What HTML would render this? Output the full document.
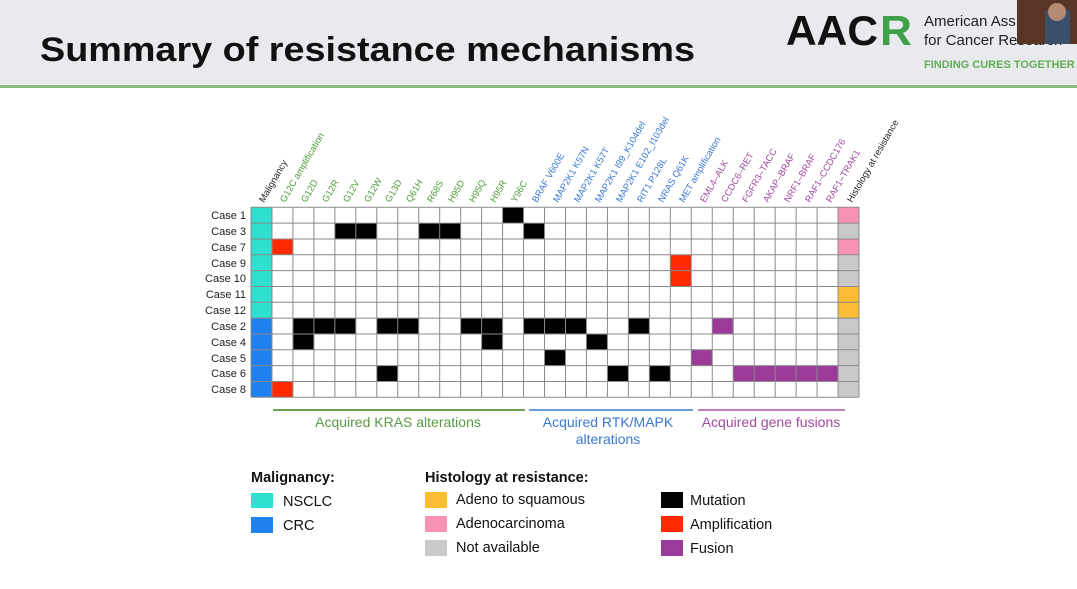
<!DOCTYPE html>
<html><head><meta charset="utf-8"><style>
html,body{margin:0;padding:0;background:#fff;}
body{width:1077px;height:589px;overflow:hidden;position:relative;font-family:"Liberation Sans",sans-serif;}
</style></head><body>
<svg width="1077" height="589" viewBox="0 0 1077 589" xmlns="http://www.w3.org/2000/svg" style="position:absolute;left:0;top:0" font-family="Liberation Sans, sans-serif">
<rect x="0" y="0" width="1077" height="85" fill="#e9eaee"/>
<rect x="0" y="85" width="1077" height="3" fill="#8dbb7e"/>
<text x="40" y="61" font-size="34" font-weight="bold" fill="#111" textLength="655" lengthAdjust="spacingAndGlyphs">Summary of resistance mechanisms</text>
<text x="786" y="45" font-size="42" font-weight="bold" fill="#111" textLength="92" lengthAdjust="spacingAndGlyphs">AAC</text>
<text x="880" y="45" font-size="42" font-weight="bold" fill="#3fa04a" textLength="32" lengthAdjust="spacingAndGlyphs">R</text>
<text x="924" y="26" font-size="15" fill="#222">American Ass</text>
<text x="924" y="45" font-size="15" fill="#222">for Cancer Research</text>
<text x="924" y="68" font-size="11" font-weight="bold" fill="#5fae52">FINDING CURES TOGETHER</text>
<rect x="1017" y="0" width="60" height="44" fill="#5a3526"/>
<rect x="1045" y="10" width="25" height="34" fill="#3a4f6a"/>
<circle cx="1057" cy="12" r="9" fill="#b58a74"/>

<g font-size="11" fill="#222" text-anchor="end">
<text x="246" y="219">Case 1</text><text x="246" y="235">Case 3</text><text x="246" y="251">Case 7</text>
<text x="246" y="267">Case 9</text><text x="246" y="282">Case 10</text><text x="246" y="298">Case 11</text>
<text x="246" y="314">Case 12</text><text x="246" y="330">Case 2</text><text x="246" y="346">Case 4</text>
<text x="246" y="362">Case 5</text><text x="246" y="377">Case 6</text><text x="246" y="393">Case 8</text>
</g>

<g font-size="9.3">
<g fill="#222"><text transform="translate(264,203) rotate(-60)">Malignancy</text></g>
<g fill="#4f9a3c">
<text transform="translate(285,203) rotate(-60)">G12C amplification</text>
<text transform="translate(306,203) rotate(-60)">G12D</text>
<text transform="translate(327,203) rotate(-60)">G12R</text>
<text transform="translate(348,203) rotate(-60)">G12V</text>
<text transform="translate(369,203) rotate(-60)">G12W</text>
<text transform="translate(390,203) rotate(-60)">G13D</text>
<text transform="translate(411,203) rotate(-60)">Q61H</text>
<text transform="translate(432,203) rotate(-60)">R68S</text>
<text transform="translate(453,203) rotate(-60)">H95D</text>
<text transform="translate(474,203) rotate(-60)">H95Q</text>
<text transform="translate(495,203) rotate(-60)">H95R</text>
<text transform="translate(516,203) rotate(-60)">Y96C</text>
</g>
<g fill="#3a78d2">
<text transform="translate(537,203) rotate(-60)">BRAF V600E</text>
<text transform="translate(558,203) rotate(-60)">MAP2K1 K57N</text>
<text transform="translate(579,203) rotate(-60)">MAP2K1 K57T</text>
<text transform="translate(600,203) rotate(-60)">MAP2K1 I99_K104del</text>
<text transform="translate(621,203) rotate(-60)">MAP2K1 E102_I103del</text>
<text transform="translate(642,203) rotate(-60)">RIT1 P128L</text>
<text transform="translate(663,203) rotate(-60)">NRAS Q61K</text>
<text transform="translate(684,203) rotate(-60)">MET amplification</text>
</g>
<g fill="#a04a9f">
<text transform="translate(705,203) rotate(-60)">EML4–ALK</text>
<text transform="translate(726,203) rotate(-60)">CCDC6–RET</text>
<text transform="translate(747,203) rotate(-60)">FGFR3–TACC</text>
<text transform="translate(768,203) rotate(-60)">AKAP–BRAF</text>
<text transform="translate(789,203) rotate(-60)">NRF1–BRAF</text>
<text transform="translate(810,203) rotate(-60)">RAF1–CCDC176</text>
<text transform="translate(831,203) rotate(-60)">RAF1–TRAK1</text>
</g>
<g fill="#222"><text transform="translate(852,203) rotate(-60)">Histology at resistance</text></g>
</g>

<g transform="translate(251,207.3) scale(20.966,15.833)">
<rect x="0" y="0" width="29" height="12" fill="#fff"/>
<rect x="0" y="0" width="1" height="7" fill="#2ee0cf"/>
<rect x="0" y="7" width="1" height="5" fill="#1f80f0"/>
<rect x="28" y="0" width="1" height="12" fill="#c9c9c9"/>
<rect x="28" y="0" width="1" height="1" fill="#f792b2"/>
<rect x="28" y="2" width="1" height="1" fill="#f792b2"/>
<rect x="28" y="5" width="1" height="2" fill="#fbbd33"/>
<g fill="#000">
<rect x="12" y="0" width="1" height="1"/>
<rect x="4" y="1" width="2" height="1"/><rect x="8" y="1" width="2" height="1"/><rect x="13" y="1" width="1" height="1"/>
<rect x="2" y="7" width="3" height="1"/><rect x="6" y="7" width="2" height="1"/><rect x="10" y="7" width="2" height="1"/><rect x="13" y="7" width="3" height="1"/><rect x="18" y="7" width="1" height="1"/>
<rect x="2" y="8" width="1" height="1"/><rect x="11" y="8" width="1" height="1"/><rect x="16" y="8" width="1" height="1"/>
<rect x="14" y="9" width="1" height="1"/>
<rect x="6" y="10" width="1" height="1"/><rect x="17" y="10" width="1" height="1"/><rect x="19" y="10" width="1" height="1"/>
</g>
<g fill="#ff2a00">
<rect x="1" y="2" width="1" height="1"/><rect x="20" y="3" width="1" height="2"/><rect x="1" y="11" width="1" height="1"/>
</g>
<g fill="#9c3a9a">
<rect x="22" y="7" width="1" height="1"/><rect x="21" y="9" width="1" height="1"/><rect x="23" y="10" width="5" height="1"/>
</g>
<g stroke="#8a8a8a" stroke-width="1">
<path vector-effect="non-scaling-stroke" d="M0 0V12M1 0V12M2 0V12M3 0V12M4 0V12M5 0V12M6 0V12M7 0V12M8 0V12M9 0V12M10 0V12M11 0V12M12 0V12M13 0V12M14 0V12M15 0V12M16 0V12M17 0V12M18 0V12M19 0V12M20 0V12M21 0V12M22 0V12M23 0V12M24 0V12M25 0V12M26 0V12M27 0V12M28 0V12M29 0V12M0 0H29M0 1H29M0 2H29M0 3H29M0 4H29M0 5H29M0 6H29M0 7H29M0 8H29M0 9H29M0 10H29M0 11H29M0 12H29"/>
</g>
</g>

<rect x="273" y="409" width="252" height="2" fill="#6aa453"/>
<rect x="529" y="409" width="164" height="2" fill="#6a9ee0"/>
<rect x="698" y="409" width="147" height="2" fill="#c07fc0"/>
<g font-size="14" text-anchor="middle">
<text x="398" y="427" fill="#5a9a46">Acquired KRAS alterations</text>
<text x="608" y="427" fill="#3a78d2">Acquired RTK/MAPK</text>
<text x="608" y="444" fill="#3a78d2">alterations</text>
<text x="771" y="427" fill="#a04a9f">Acquired gene fusions</text>
</g>

<g font-size="14.5" fill="#111">
<text x="251" y="482" font-weight="bold">Malignancy:</text>
<text x="425" y="482" font-weight="bold">Histology at resistance:</text>
<rect x="251" y="493" width="22" height="15" fill="#2ee0cf"/>
<rect x="251" y="517" width="22" height="16" fill="#1f80f0"/>
<text x="283" y="506">NSCLC</text><text x="283" y="530">CRC</text>
<rect x="425" y="492" width="22" height="16" fill="#fbbd33"/>
<rect x="425" y="516" width="22" height="16" fill="#f792b2"/>
<rect x="425" y="540" width="22" height="16" fill="#c9c9c9"/>
<text x="456" y="504">Adeno to squamous</text><text x="456" y="528">Adenocarcinoma</text><text x="456" y="552">Not available</text>
<rect x="661" y="492" width="22" height="16" fill="#000"/>
<rect x="661" y="516" width="22" height="16" fill="#ff2a00"/>
<rect x="661" y="540" width="22" height="16" fill="#9c3a9a"/>
<text x="690" y="505">Mutation</text><text x="690" y="529">Amplification</text><text x="690" y="553">Fusion</text>
</g>
</svg>
</body></html>
